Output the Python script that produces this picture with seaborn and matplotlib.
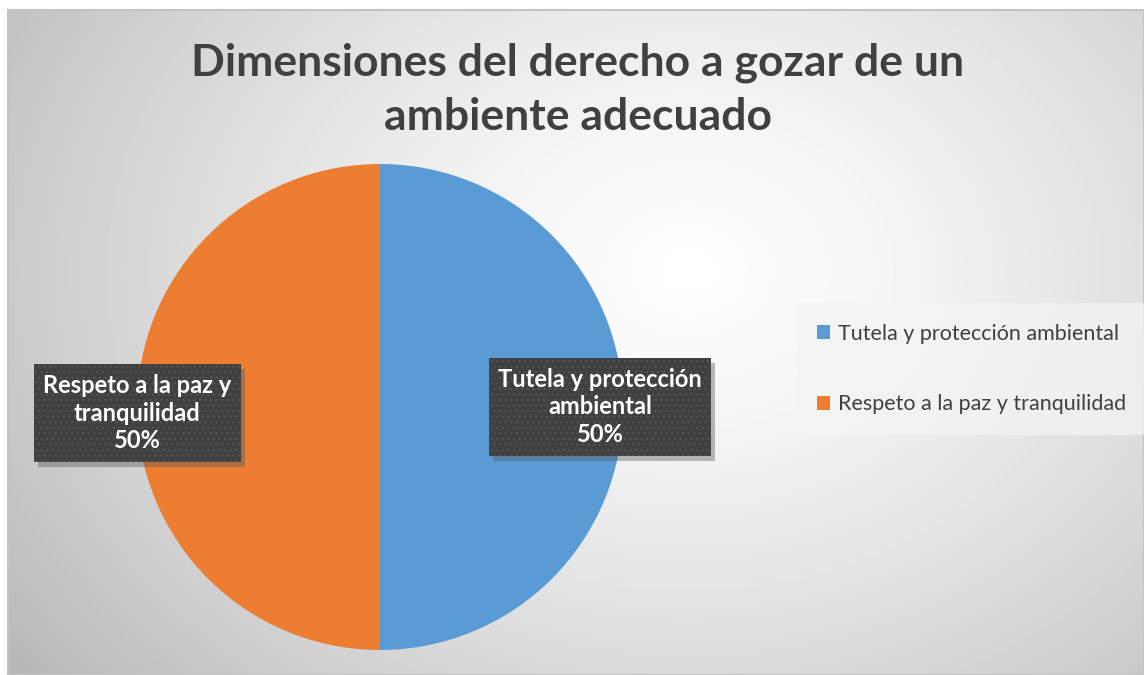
import numpy as np
import pandas as pd
import matplotlib
matplotlib.use("Agg")
import matplotlib.pyplot as plt
from matplotlib.patches import Rectangle
import seaborn as sns

# data
categories = ["Tutela y protección ambiental", "Respeto a la paz y tranquilidad"]
shares = [50, 50]
slice_labels = ["Tutela y protección\nambiental", "Respeto a la paz y\ntranquilidad"]
title = "Dimensiones del derecho a gozar de un\nambiente adecuado"

sns.set_style("white")
plt.rcParams["font.family"] = ["Lato", "DejaVu Sans"]
colors = sns.color_palette(["#5B9BD5", "#ED7D31"])

W, H = 1144, 675
fig = plt.figure(figsize=(W / 100, H / 100), dpi=100)
fig.patch.set_facecolor("white")

# radial grey background of the chart area
bg = fig.add_axes([8 / W, 0, 1 - 8 / W, 1 - 10 / H])
yy, xx = np.mgrid[0:665, 0:1136]
d = np.sqrt(((xx - 680) / 720) ** 2 + ((yy - 260) / 560) ** 2)
shade = 0.995 - 0.22 * d ** 1.4
bg.imshow(shade, cmap="gray", vmin=0, vmax=1, aspect="auto", interpolation="bilinear")
bg.set_xticks([])
bg.set_yticks([])
for s in bg.spines.values():
    s.set_color("#c4c4c4")
    s.set_linewidth(1.5)

fig.text(0.505, 1 - 90 / H, title, ha="center", va="center", fontsize=32,
         fontweight="bold", color="#404040", linespacing=1.42)

# pie
R = 243
cx, cy = 380, 407
ax = fig.add_axes([(cx - R) / W, (H - cy - R) / H, 2 * R / W, 2 * R / H])
df = pd.DataFrame({"cat": categories, "share": shares})
wedges, _ = ax.pie(df["share"], colors=colors, startangle=90, counterclock=False,
                   radius=1, wedgeprops=dict(linewidth=0))
ax.set_xlim(-1, 1)
ax.set_ylim(-1, 1)
ax.set_aspect("auto")
ax.axis("off")

# data labels: white bold text on dotted dark boxes with a soft shadow
plt.rcParams["hatch.linewidth"] = 0.8
label_pos = [(0.905, 0.0), (-0.998, -0.025)]
label_texts = []
for (lx, ly), lab, val in zip(label_pos, slice_labels, df["share"]):
    t = ax.text(lx, ly, f"{lab}\n{val}%", ha="center", va="center", fontsize=17,
                fontweight="bold", color="white", linespacing=1.25,
                bbox=dict(boxstyle="square,pad=0.4", facecolor="none",
                          edgecolor="none"),
                clip_on=False, zorder=4)
    label_texts.append(t)

fig.canvas.draw()
for t in label_texts:
    ext = t.get_bbox_patch().get_window_extent()
    x0, y0, w, h = ext.x0 / W, ext.y0 / H, ext.width / W, ext.height / H
    ax.add_patch(Rectangle((x0 + 4 / W, y0 - 5 / H), w, h, transform=fig.transFigure,
                           facecolor="#555555", alpha=0.4, edgecolor="none",
                           clip_on=False, zorder=2.8))
    ax.add_patch(Rectangle((x0, y0), w, h, transform=fig.transFigure,
                           facecolor="#404040", edgecolor="#565656", linewidth=0,
                           hatch="...", clip_on=False, zorder=3))

# legend
leg = fig.legend(wedges, categories, loc="center left",
                 bbox_to_anchor=(797 / W, 1 - 369 / H), frameon=True,
                 fontsize=15.5, handlelength=0.6, handleheight=0.6,
                 handletextpad=0.35, labelspacing=2.35, borderpad=0.95,
                 borderaxespad=0)
leg.get_frame().set_facecolor("#f4f4f4")
leg.get_frame().set_alpha(0.75)
leg.get_frame().set_edgecolor("none")
for t in leg.get_texts():
    t.set_color("#404040")

fig.savefig("out.png", dpi=100)
